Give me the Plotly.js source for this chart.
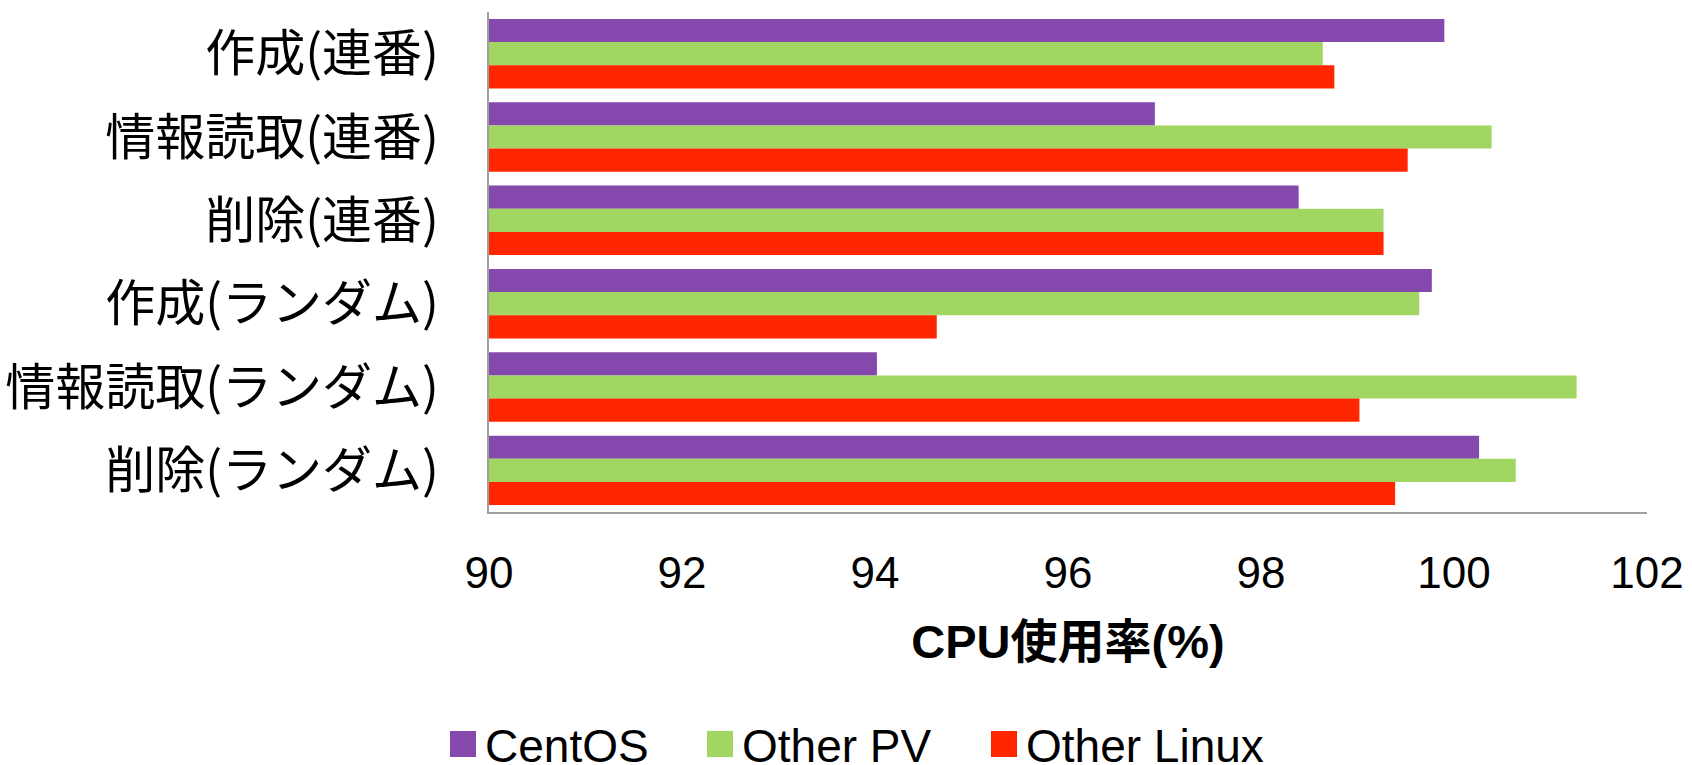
<!DOCTYPE html>
<html>
<head>
<meta charset="utf-8">
<script src="https://cdn.plot.ly/plotly-3.0.1.min.js"></script>
<style>
  html, body { margin: 0; padding: 0; background: #fff; }
  #chart { width: 1692px; height: 765px; }
</style>
</head>
<body>
<div id="chart"></div>
<script>
// Benchmark categories (top to bottom)
const categories = [
  '作成(連番)',
  '情報読取(連番)',
  '削除(連番)',
  '作成(ランダム)',
  '情報読取(ランダム)',
  '削除(ランダム)'
];

// CPU usage (%) per OS
const centos     = [99.90, 96.90, 98.39, 99.77, 94.02, 100.26];
const otherPV    = [98.64, 100.39, 99.27, 99.64, 101.27, 100.64];
const otherLinux = [98.76, 99.52, 99.27, 94.64, 99.02, 99.39];

const seriesNames = ['CentOS', 'Other PV', 'Other Linux'];
const seriesColors = ['#8549ad', '#a2d663', '#ff2600'];
const seriesValues = [centos, otherPV, otherLinux];
const legendWidths = [212, 239, 240];

const xTicks = [90, 92, 94, 96, 98, 100, 102];

const latin = 'Liberation Sans, Arial, Noto Sans CJK JP, sans-serif';
const cjk = 'Noto Sans CJK JP, Liberation Sans, sans-serif';

const traces = seriesNames.map((name, i) => ({
  type: 'bar',
  orientation: 'h',
  name: name,
  x: seriesValues[i],
  y: categories,
  marker: { color: seriesColors[i] },
  legendwidth: legendWidths[i],
  hoverinfo: 'x+name'
}));

const layout = {
  width: 1692,
  height: 765,
  paper_bgcolor: '#ffffff',
  plot_bgcolor: '#ffffff',
  margin: { l: 489, r: 45, t: 12, b: 253, autoexpand: false },
  barmode: 'group',
  bargap: 0.167,
  bargroupgap: 0,
  showlegend: true,
  legend: {
    orientation: 'h',
    xref: 'container',
    x: 445 / 1692,
    xanchor: 'left',
    yref: 'container',
    y: 1 - 744 / 765,
    yanchor: 'middle',
    font: { family: latin, size: 46, color: '#000' },
    itemclick: false,
    itemdoubleclick: false,
    traceorder: 'normal'
  },
  xaxis: {
    range: [90, 102],
    tickvals: xTicks,
    ticktext: xTicks.map(String),
    tickangle: 0,
    ticks: '',
    ticklabelstandoff: 21,
    showgrid: false,
    zeroline: false,
    showline: true,
    linecolor: '#a0a0a0',
    linewidth: 2,
    tickfont: { family: latin, size: 44, color: '#000' },
    title: {
      text: 'CPU使用率(%)',
      font: { family: latin, size: 47, color: '#000', weight: 'bold' },
      standoff: 29
    }
  },
  yaxis: {
    type: 'category',
    autorange: 'reversed',
    ticks: '',
    ticklabelstandoff: 38,
    showgrid: false,
    zeroline: false,
    showline: true,
    linecolor: '#a0a0a0',
    linewidth: 2,
    tickfont: { family: cjk, size: 50, color: '#000' }
  }
};

Plotly.newPlot('chart', traces, layout, { displayModeBar: false, staticPlot: true }).then(gd => {
  // enlarge the legend swatches to 26px squares, keeping their position
  gd.querySelectorAll('.legend .legendpoints path').forEach(p => {
    p.setAttribute('transform', 'translate(18,0) scale(2.17)');
  });
});
</script>
</body>
</html>
